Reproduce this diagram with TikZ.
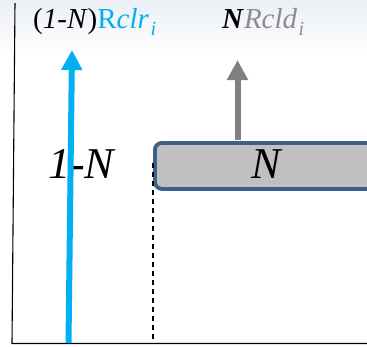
\documentclass[tikz,border=0pt]{standalone}
\usepackage{fontspec}
\setmainfont{Liberation Serif}
\definecolor{cblue}{HTML}{00B0F0}
\definecolor{cgray}{HTML}{808080}
\definecolor{tgray}{HTML}{8C8C8C}
\definecolor{boxfill}{HTML}{C0C0C0}
\definecolor{boxline}{HTML}{3D5F8A}
\definecolor{topbg}{HTML}{EBEFF5}
\usetikzlibrary{arrows.meta}
\newcommand{\mysub}[1]{\kern1.5pt\raisebox{-7pt}{\fontsize{20}{20}\selectfont\textit{#1}}}
\begin{document}
\begin{tikzpicture}[x=1pt,y=-1pt,
  axisline/.style={line width=1.1pt,black},
  bigarrow/.style={line width=6pt,-{Triangle[width=20pt,length=20pt]}},
  biglabel/.style={font=\fontsize{44}{44}\selectfont\itshape,inner sep=0pt},
  toplabel/.style={font=\fontsize{29}{29}\selectfont,inner sep=0pt,anchor=base west}]
\useasboundingbox (0,0) rectangle (367,346);
\shade[top color=topbg,bottom color=white] (0,0) rectangle (367,56);
% axes
\coordinate (atop) at (15,3);
\coordinate (aorig) at (12,343.5);
\coordinate (aend) at (367,343.5);
\draw[axisline] (atop) -- (aorig) -- (aend);
% box
\node[draw=boxline,line width=3.8pt,fill=boxfill,rounded corners=7pt,minimum width=240pt,minimum height=46pt,anchor=north west,inner sep=0pt] (box) at (153,141) {};
\node[biglabel] (nlab) at (266,164) {N};
% dashed line
\coordinate (dtop) at (153,163);
\coordinate (dbot) at (153,343.5);
\draw[dashed,line width=1.1pt,dash pattern=on 5pt off 4pt] (dtop) -- (dbot);
% 1-N label
\node[biglabel] (onelab) at (81,164) {1-N};
% blue arrow
\coordinate (bbot) at (68.5,343);
\coordinate (btop) at (72,50);
\draw[bigarrow,cblue] (bbot) -- (btop);
% gray arrow
\coordinate (gbot) at (237.5,140);
\coordinate (gtop) at (237.5,60);
\draw[bigarrow,cgray] (gbot) -- (gtop);
% top labels
\node[toplabel] (lclr) at (33,28) {(\textit{1-N})\textcolor{cblue}{R\textit{clr}\mysub{i}}};
\node[toplabel] (lcld) at (222,28) {\textbf{\textit{N}}\textcolor{tgray}{\textit{Rcld}\mysub{i}}};
\end{tikzpicture}
\end{document}
